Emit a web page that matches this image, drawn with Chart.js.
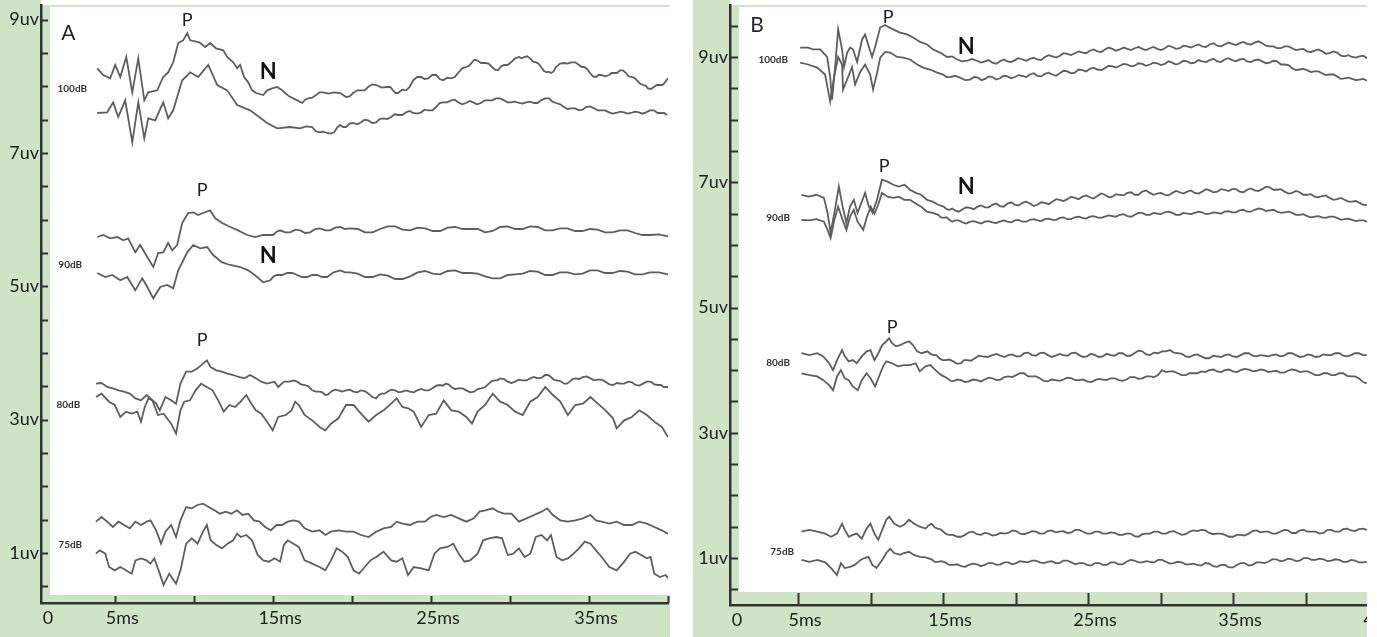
<!DOCTYPE html>
<html>
<head>
<meta charset="utf-8">
<script src="https://cdn.jsdelivr.net/npm/chart.js@4.4.1/dist/chart.umd.min.js"></script>
<style>
  html, body { margin: 0; padding: 0; background: #fff; overflow: hidden; }
  #wrap { position: relative; width: 1377px; height: 637px; overflow: hidden; }
  .panel { position: absolute; top: 0; height: 637px; overflow: hidden; }
  #panelA { left: 0; width: 670px; }
  #panelB { left: 693px; width: 674px; }
</style>
</head>
<body>
<div id="wrap">
  <div class="panel" id="panelA"><canvas id="chartA" width="670" height="637"></canvas></div>
  <div class="panel" id="panelB"><canvas id="chartB" width="720" height="637"></canvas></div>
</div>
<script>
// ---- axis ticks ----
const xTicksA = [5, 10, 15, 20, 25, 30, 35, 40];
const xLabelsA = [5, 15, 25, 35];
const xTicksB = [5, 10, 15, 20, 25, 30, 35, 40, 45];
const xLabelsB = [5, 15, 25, 35, 45];
const yTicksA = [0.5, 1, 1.5, 2, 2.5, 3, 3.5, 4, 4.5, 5, 5.5, 6, 6.5, 7, 7.5, 8, 8.5, 9];
const yTicksB = [0.5, 1, 1.5, 2, 2.5, 3, 3.5, 4, 4.5, 5, 5.5, 6, 6.5, 7, 7.5, 8, 8.5, 9, 9.5];
const yLabels = [1, 3, 5, 7, 9];

// ---- panel A traces: [ms, uV] ----
const a100Upper = [[3.86,8.27],[4.24,8.17],[4.68,8.12],[5.00,8.32],[5.32,8.14],[5.70,8.44],[6.08,7.91],[6.46,8.42],[6.84,7.79],[7.09,7.91],[7.66,7.94],[8.04,8.14],[8.35,8.21],[8.67,8.36],[8.99,8.65],[9.30,8.69],[9.56,8.80],[9.75,8.69],[10.32,8.66],[10.70,8.59],[11.01,8.65],[11.39,8.57],[11.84,8.54],[12.09,8.44],[12.47,8.36],[12.72,8.27],[12.91,8.32],[13.16,8.14],[13.42,8.06],[13.67,7.94],[13.92,7.90],[14.37,7.87],[14.62,7.94],[14.94,7.97],[15.25,7.99],[15.57,7.94],[16.01,7.85],[16.52,7.79],[16.84,7.75],
  [17.03,7.80],[17.22,7.82],[17.47,7.83],[17.72,7.87],[17.94,7.91],[18.16,7.91],[18.51,7.89],[18.86,7.91],[19.24,7.90],[19.62,7.84],[19.84,7.85],[20.06,7.90],[20.32,7.94],[20.57,7.94],[20.79,7.94],[21.01,7.99],[21.27,8.03],[21.52,8.02],[21.87,7.98],[22.22,7.99],[22.41,7.99],[22.59,7.94],[22.75,7.90],[22.91,7.90],[23.17,7.95],[23.42,7.94],[23.64,7.99],[23.86,8.09],[24.12,8.14],[24.37,8.14],[24.59,8.11],[24.81,8.12],[25.07,8.17],[25.32,8.17],[25.54,8.11],[25.76,8.09],[26.02,8.13],[26.27,8.12],[26.49,8.14],[26.71,8.20],[26.97,8.27],[27.22,8.29],[27.41,8.31],[27.59,8.36],[27.75,8.40],[27.91,8.39],[28.17,8.35],[28.42,8.35],[28.64,8.34],[28.86,8.29],[29.05,8.25],[29.24,8.24],[29.43,8.30],[29.62,8.32],[29.84,8.32],[30.06,8.36],[30.32,8.42],[30.57,8.44],[30.73,8.42],[30.89,8.44],[31.08,8.45],[31.27,8.42],[31.46,8.37],[31.65,8.36],[31.81,8.34],[31.96,8.29],[32.15,8.23],[32.34,8.21],[32.47,8.22],[32.59,8.20],[32.75,8.22],[32.91,8.29],[33.17,8.34],[33.42,8.35],[33.64,8.34],[33.86,8.36],[34.12,8.36],[34.37,8.32],[34.53,8.29],[34.68,8.29],[34.87,8.26],[35.06,8.20],[35.25,8.15],[35.44,8.14],[35.60,8.17],[35.76,8.17],[36.02,8.15],[36.27,8.17],[36.43,8.20],[36.58,8.20],[36.77,8.20],[36.96,8.24],[37.15,8.24],[37.34,8.20],[37.50,8.15],[37.66,8.14],[37.85,8.13],[38.04,8.09],[38.23,8.04],[38.42,8.02],[38.58,8.01],[38.73,7.97],[38.92,7.96],[39.11,7.99],[39.30,8.02],[39.49,8.02],[39.65,8.02],[39.81,8.06],[40.0,8.12]];
const a100Lower = [[3.86,7.60],[4.49,7.61],[4.87,7.76],[5.19,7.54],[5.63,7.79],[6.08,7.16],[6.46,7.76],[6.84,7.22],[7.09,7.52],[7.53,7.49],[8.04,7.76],[8.35,7.52],[8.67,7.64],[9.24,8.09],[9.75,8.21],[10.25,8.14],[10.89,8.32],[11.46,8.02],[12.09,7.94],[12.72,7.72],[13.54,7.64],[14.62,7.45],[15.25,7.37],[16.08,7.39],[16.71,7.37],
  [17.09,7.40],[17.47,7.39],[17.69,7.33],[17.91,7.31],[18.17,7.32],[18.42,7.30],[18.64,7.29],[18.86,7.31],[19.05,7.38],[19.24,7.42],[19.43,7.39],[19.62,7.39],[19.84,7.44],[20.06,7.45],[20.32,7.43],[20.57,7.46],[20.79,7.50],[21.01,7.49],[21.27,7.45],[21.52,7.46],[21.74,7.51],[21.96,7.52],[22.22,7.51],[22.47,7.54],[22.69,7.58],[22.91,7.57],[23.17,7.57],[23.42,7.61],[23.64,7.63],[23.86,7.60],[24.12,7.59],[24.37,7.61],[24.59,7.65],[24.81,7.64],[25.07,7.64],[25.32,7.69],[25.54,7.75],[25.76,7.76],[26.02,7.76],[26.27,7.79],[26.49,7.80],[26.71,7.76],[26.97,7.73],[27.22,7.75],[27.44,7.78],[27.66,7.76],[27.91,7.73],[28.16,7.75],[28.39,7.79],[28.61,7.79],[28.86,7.79],[29.11,7.82],[29.37,7.82],[29.62,7.79],[29.84,7.76],[30.06,7.76],[30.32,7.77],[30.57,7.75],[30.79,7.74],[31.01,7.76],[31.27,7.77],[31.52,7.75],[31.74,7.75],[31.96,7.79],[32.22,7.82],[32.47,7.82],[32.69,7.77],[32.91,7.75],[33.17,7.73],[33.42,7.69],[33.64,7.66],[33.86,7.67],[34.12,7.67],[34.37,7.64],[34.59,7.65],[34.81,7.69],[35.07,7.70],[35.32,7.67],[35.54,7.64],[35.76,7.64],[36.02,7.64],[36.27,7.61],[36.49,7.59],[36.71,7.60],[36.97,7.62],[37.22,7.61],[37.44,7.59],[37.66,7.60],[37.91,7.62],[38.16,7.61],[38.39,7.59],[38.61,7.61],[38.86,7.64],[39.11,7.64],[39.34,7.60],[39.56,7.60],[39.75,7.60],[39.94,7.57]];
const a90Upper = [[3.86,5.74],[4.24,5.77],[4.68,5.72],[5.13,5.74],[5.51,5.69],[5.82,5.72],[6.27,5.51],[6.58,5.62],[7.03,5.44],[7.41,5.29],[7.72,5.50],[8.04,5.51],[8.35,5.65],[8.61,5.54],[8.92,5.62],[9.24,5.95],[9.62,6.10],[9.94,6.11],[10.25,6.07],[10.57,6.10],[11.01,6.14],[11.33,6.02],[11.77,5.95],[12.28,5.89],[12.78,5.84],[13.35,5.77],[13.86,5.74],[14.37,5.77],
  [15.0,5.77],[15.22,5.82],[15.44,5.84],[15.76,5.81],[16.08,5.81],[16.40,5.85],[16.71,5.84],[17.03,5.80],[17.34,5.81],[17.66,5.86],[17.97,5.87],[18.29,5.84],[18.61,5.84],[18.93,5.88],[19.24,5.89],[19.56,5.86],[19.87,5.87],[20.35,5.86],[20.82,5.81],[21.30,5.81],[21.77,5.86],[22.25,5.90],[22.72,5.90],[23.20,5.85],[23.67,5.84],[24.15,5.88],[24.62,5.87],[25.10,5.83],[25.57,5.83],[26.05,5.88],[26.52,5.89],[27.00,5.86],[27.47,5.86],[27.95,5.86],[28.42,5.81],[28.90,5.83],[29.37,5.89],[29.85,5.90],[30.32,5.86],[30.80,5.86],[31.27,5.90],[31.75,5.89],[32.22,5.84],[32.69,5.84],[33.16,5.87],[33.64,5.87],[34.11,5.83],[34.59,5.83],[35.06,5.86],[35.54,5.85],[36.01,5.81],[36.49,5.81],[36.96,5.84],[37.44,5.84],[37.91,5.80],[38.39,5.77],[38.86,5.77],[39.43,5.78],[40.0,5.75]];
const a90Lower = [[3.86,5.20],[4.37,5.14],[4.81,5.17],[5.32,5.09],[5.76,5.14],[6.27,4.94],[6.71,5.12],[7.03,4.99],[7.41,4.82],[7.85,4.99],[8.29,5.02],[8.67,4.97],[8.99,5.24],[9.56,5.51],[9.94,5.62],[10.38,5.57],[10.82,5.59],[11.20,5.47],[11.77,5.36],[12.28,5.32],[12.91,5.29],[13.42,5.24],[13.99,5.14],[14.37,5.06],
  [14.81,5.09],[15.03,5.15],[15.25,5.17],[15.57,5.17],[15.89,5.20],[16.21,5.20],[16.52,5.17],[16.84,5.14],[17.15,5.14],[17.47,5.17],[17.78,5.17],[18.10,5.14],[18.42,5.14],[18.83,5.21],[19.24,5.24],[19.56,5.21],[19.87,5.21],[20.35,5.19],[20.82,5.14],[21.30,5.14],[21.77,5.18],[22.25,5.16],[22.72,5.11],[23.20,5.11],[23.67,5.15],[24.15,5.21],[24.62,5.23],[25.10,5.19],[25.57,5.18],[26.05,5.23],[26.52,5.24],[27.00,5.20],[27.47,5.20],[27.95,5.19],[28.42,5.15],[28.90,5.12],[29.37,5.12],[29.85,5.17],[30.32,5.18],[30.80,5.19],[31.27,5.23],[31.75,5.22],[32.22,5.17],[32.69,5.17],[33.16,5.21],[33.64,5.21],[34.11,5.18],[34.59,5.19],[35.06,5.24],[35.54,5.24],[36.01,5.20],[36.49,5.20],[36.96,5.23],[37.44,5.22],[37.91,5.18],[38.39,5.18],[38.86,5.21],[39.43,5.21],[40.0,5.18]];
const a80Upper = [[3.78,3.54],[4.13,3.55],[4.49,3.49],[4.85,3.47],[5.21,3.44],[5.56,3.42],[5.92,3.39],[6.28,3.32],[6.63,3.29],[6.99,3.37],[7.59,3.24],[7.82,3.14],[8.18,3.34],[8.54,3.29],[8.85,3.24],[9.13,3.54],[9.49,3.72],[9.85,3.72],[10.21,3.77],[10.56,3.84],[10.80,3.89],[11.04,3.79],[11.40,3.74],[11.75,3.72],[12.11,3.69],[12.47,3.67],[12.82,3.64],[13.18,3.62],[13.54,3.67],[13.90,3.62],[14.25,3.57],[14.61,3.54],[15.09,3.57],[15.32,3.49],[15.68,3.57],
  [16.04,3.57],[16.28,3.59],[16.52,3.57],[16.76,3.53],[16.99,3.52],[17.23,3.50],[17.47,3.44],[17.71,3.42],[17.94,3.42],[18.12,3.41],[18.30,3.37],[18.48,3.38],[18.66,3.42],[18.90,3.45],[19.13,3.44],[19.37,3.42],[19.61,3.44],[19.85,3.45],[20.09,3.42],[20.33,3.41],[20.56,3.44],[20.80,3.43],[21.04,3.39],[21.28,3.34],[21.52,3.32],[21.70,3.37],[21.87,3.39],[22.05,3.39],[22.23,3.42],[22.47,3.45],[22.71,3.44],[22.95,3.41],[23.18,3.42],[23.42,3.44],[23.66,3.42],[23.90,3.41],[24.13,3.44],[24.37,3.46],[24.61,3.44],[24.85,3.44],[25.09,3.47],[25.33,3.51],[25.56,3.52],[25.74,3.51],[25.92,3.54],[26.10,3.53],[26.28,3.49],[26.52,3.46],[26.75,3.47],[26.99,3.47],[27.23,3.44],[27.47,3.41],[27.71,3.42],[27.95,3.46],[28.18,3.47],[28.42,3.49],[28.66,3.54],[28.84,3.58],[29.02,3.59],[29.20,3.59],[29.37,3.62],[29.61,3.61],[29.85,3.57],[30.09,3.55],[30.32,3.57],[30.56,3.60],[30.80,3.59],[31.04,3.59],[31.28,3.62],[31.52,3.64],[31.75,3.62],[31.99,3.63],[32.23,3.67],[32.41,3.67],[32.59,3.64],[32.77,3.60],[32.94,3.59],[33.18,3.58],[33.42,3.54],[33.60,3.54],[33.78,3.57],[33.96,3.61],[34.13,3.62],[34.37,3.61],[34.61,3.64],[34.85,3.65],[35.09,3.62],[35.33,3.59],[35.56,3.60],[35.80,3.60],[36.04,3.57],[36.28,3.53],[36.52,3.52],[36.76,3.55],[36.99,3.54],[37.23,3.54],[37.47,3.57],[37.71,3.56],[37.94,3.52],[38.18,3.51],[38.42,3.54],[38.66,3.57],[38.90,3.57],[39.14,3.53],[39.37,3.52],[39.55,3.52],[39.73,3.49],[40.0,3.49]];
const a80Lower = [[3.78,3.34],[4.13,3.39],[4.61,3.27],[4.97,3.22],[5.32,3.04],[5.68,3.12],[6.04,3.09],[6.40,3.12],[6.63,2.97],[6.87,3.19],[7.11,3.32],[7.35,3.29],[7.71,3.07],[8.06,3.09],[8.54,2.94],[8.85,2.79],[9.13,3.14],[9.37,3.27],[9.73,3.29],[10.09,3.44],[10.44,3.54],[10.80,3.49],[11.16,3.44],[11.52,3.29],[11.87,3.12],[12.23,3.22],[12.59,3.19],[12.94,3.27],[13.30,3.37],[13.54,3.27],[13.90,3.14],[14.25,3.09],[14.61,2.97],[14.97,2.84],[15.32,3.04],[15.80,3.07],[16.16,3.14],[16.40,3.27],[16.63,3.22],[16.99,3.07],[17.47,2.99],[17.94,2.89],[18.30,2.84],[18.66,2.94],[19.13,3.02],[19.61,3.22],[20.09,3.22],[20.56,3.09],[21.04,2.97],[21.52,3.07],[21.99,3.14],[22.47,3.24],[22.82,3.32],[23.18,3.19],[23.54,3.17],[23.90,3.12],[24.37,2.89],[24.85,3.07],[25.32,3.09],[25.80,3.29],[26.28,3.14],[26.75,3.12],[27.23,3.04],[27.59,2.94],[27.94,3.12],[28.42,3.22],[28.90,3.39],[29.37,3.27],[29.85,3.22],[30.32,3.12],[30.80,3.07],[31.28,3.27],[31.75,3.34],[32.23,3.49],[32.71,3.37],[33.18,3.27],[33.66,3.07],[34.13,3.22],[34.61,3.24],[35.09,3.34],[35.56,3.24],[36.04,3.14],[36.52,3.02],[36.75,2.87],[37.23,2.99],[37.71,3.04],[38.18,3.14],[38.66,3.07],[39.13,2.97],[39.61,2.89],[40.0,2.74]];
const a75Upper = [[3.78,1.47],[4.13,1.54],[4.49,1.47],[4.85,1.39],[5.21,1.47],[5.56,1.42],[5.92,1.37],[6.28,1.47],[6.63,1.42],[6.99,1.47],[7.23,1.49],[7.59,1.34],[7.90,1.14],[8.18,1.32],[8.54,1.42],[8.85,1.24],[9.13,1.49],[9.49,1.69],[9.85,1.67],[10.21,1.72],[10.56,1.74],[10.92,1.69],[11.28,1.64],[11.63,1.59],[11.99,1.62],[12.35,1.59],[12.71,1.64],[13.06,1.57],[13.42,1.59],[13.78,1.49],[14.13,1.47],[14.49,1.39],[14.85,1.34],[15.21,1.42],[15.56,1.42],[15.92,1.47],[16.28,1.49],[16.63,1.47],[16.99,1.37],[17.47,1.32],[17.94,1.34],[18.30,1.27],[18.66,1.32],[19.13,1.34],[19.61,1.32],[20.09,1.32],[20.56,1.27],[21.04,1.24],[21.52,1.32],[21.99,1.37],[22.47,1.39],[22.82,1.47],[23.18,1.44],[23.66,1.42],[24.13,1.47],[24.61,1.47],[24.97,1.54],[25.32,1.57],[25.80,1.54],[26.28,1.57],[26.75,1.52],[27.23,1.47],[27.71,1.52],[28.06,1.62],[28.42,1.64],[28.90,1.67],[29.25,1.62],[29.61,1.59],[30.09,1.59],[30.56,1.47],[31.04,1.52],[31.52,1.57],[31.99,1.62],[32.35,1.67],[32.71,1.57],[33.18,1.49],[33.66,1.47],[34.13,1.49],[34.61,1.52],[35.09,1.57],[35.44,1.49],[35.80,1.47],[36.28,1.44],[36.75,1.47],[37.23,1.42],[37.71,1.42],[38.18,1.47],[38.66,1.44],[39.13,1.39],[39.61,1.34],[40.0,1.29]];
const a75Lower = [[3.78,0.99],[4.02,1.04],[4.37,0.99],[4.61,0.79],[4.97,0.74],[5.32,0.79],[5.68,0.74],[6.04,0.69],[6.28,0.89],[6.63,0.92],[6.99,0.89],[7.23,0.84],[7.47,0.92],[7.82,0.69],[8.06,0.52],[8.42,0.69],[8.85,0.54],[9.13,0.74],[9.49,1.14],[9.85,1.22],[10.21,1.14],[10.56,1.32],[10.80,1.42],[11.04,1.19],[11.40,1.12],[11.75,1.07],[12.11,1.14],[12.47,1.19],[12.71,1.29],[12.94,1.24],[13.30,1.27],[13.66,1.19],[14.02,0.97],[14.37,0.89],[14.73,0.87],[15.09,0.92],[15.44,0.87],[15.68,1.12],[15.92,1.19],[16.28,1.14],[16.63,1.09],[16.99,0.89],[17.47,0.84],[17.94,0.79],[18.30,0.74],[18.66,0.89],[19.02,1.07],[19.37,1.02],[19.73,0.94],[20.09,0.74],[20.44,0.69],[20.80,0.79],[21.16,0.89],[21.52,0.94],[21.99,1.02],[22.47,0.89],[22.82,0.87],[23.18,0.92],[23.54,0.67],[23.90,0.79],[24.37,0.77],[24.85,0.74],[25.21,0.99],[25.56,1.07],[26.04,1.09],[26.40,1.14],[26.75,0.99],[27.11,0.87],[27.47,0.89],[27.94,0.99],[28.30,1.19],[28.66,1.22],[29.13,1.24],[29.49,1.22],[29.85,0.97],[30.20,0.99],[30.56,1.07],[30.92,0.94],[31.28,0.99],[31.63,1.24],[31.99,1.27],[32.35,1.19],[32.59,1.27],[32.94,0.94],[33.30,0.89],[33.66,0.92],[34.02,0.99],[34.37,1.07],[34.73,1.17],[35.09,1.14],[35.44,1.04],[35.80,0.94],[36.28,0.79],[36.75,0.74],[37.23,0.87],[37.59,0.99],[37.94,1.02],[38.30,0.97],[38.66,0.92],[38.90,0.94],[39.13,0.69],[39.49,0.64],[39.85,0.67],[40.0,0.62]];

// ---- panel B traces: [ms, uV] ----
const b100Upper = [[5.14,9.15],[5.69,9.15],[6.03,9.12],[6.52,9.12],[7.0,9.00],[7.21,8.68],[7.34,8.32],[7.55,8.84],[7.76,9.44],[8.03,9.12],[8.17,8.84],[8.38,9.07],[8.59,9.15],[8.79,9.12],[9.07,8.92],[9.41,9.28],[9.62,9.36],[9.83,9.20],[10.10,9.00],[10.31,9.16],[10.66,9.47],[11.0,9.51],[11.21,9.48],[11.55,9.44],[12.03,9.39],[12.52,9.36],[12.93,9.31],[13.41,9.24],[13.90,9.20],[14.31,9.12],[14.79,9.07],
  [15.28,9.00],[15.62,9.01],[15.97,8.96],[16.31,8.93],[16.66,8.94],[17.00,8.97],[17.34,8.94],[17.62,8.91],[17.89,8.93],[18.15,8.95],[18.40,8.91],[18.66,8.89],[18.92,8.93],[19.18,8.96],[19.44,8.93],[19.70,8.92],[19.95,8.95],[20.21,8.98],[20.47,8.96],[20.73,8.94],[20.99,8.97],[21.25,8.99],[21.50,8.96],[21.76,8.95],[22.02,9.00],[22.28,9.03],[22.54,9.01],[22.80,8.99],[23.05,9.02],[23.31,9.06],[23.57,9.05],[23.83,9.03],[24.09,9.06],[24.35,9.09],[24.61,9.07],[24.87,9.06],[25.12,9.10],[25.38,9.12],[25.64,9.09],[25.90,9.08],[26.16,9.12],[26.42,9.15],[26.67,9.13],[26.93,9.10],[27.19,9.12],[27.45,9.15],[27.71,9.13],[27.97,9.11],[28.22,9.14],[28.48,9.16],[28.74,9.13],[29.00,9.11],[29.26,9.14],[29.52,9.16],[29.77,9.13],[30.03,9.11],[30.29,9.14],[30.55,9.18],[30.81,9.16],[31.07,9.13],[31.32,9.14],[31.58,9.18],[31.84,9.17],[32.10,9.15],[32.36,9.18],[32.62,9.20],[32.87,9.17],[33.13,9.16],[33.39,9.20],[33.65,9.22],[33.91,9.18],[34.17,9.17],[34.42,9.20],[34.68,9.23],[34.94,9.21],[35.20,9.19],[35.46,9.22],[35.72,9.24],[35.97,9.21],[36.23,9.20],[36.49,9.23],[36.75,9.25],[37.01,9.22],[37.27,9.18],[37.53,9.17],[37.79,9.17],[38.04,9.14],[38.30,9.14],[38.56,9.17],[38.82,9.17],[39.08,9.14],[39.34,9.11],[39.59,9.12],[39.85,9.13],[40.11,9.09],[40.37,9.08],[40.63,9.10],[40.89,9.12],[41.14,9.09],[41.40,9.05],[41.66,9.06],[41.92,9.09],[42.18,9.07],[42.44,9.02],[42.69,9.01],[42.95,9.03],[43.21,9.00],[43.47,8.99],[43.73,9.01],[43.99,9.02],[44.24,8.98]];
const b100Lower = [[5.14,8.91],[5.69,8.88],[6.31,8.83],[6.86,8.72],[7.21,8.29],[7.48,8.68],[7.76,9.00],[8.03,8.88],[8.10,8.48],[8.45,8.68],[8.72,8.84],[8.93,8.56],[9.28,8.76],[9.62,8.88],[9.97,8.72],[10.17,8.48],[10.45,8.75],[10.66,8.99],[11.0,9.08],[11.34,9.07],[11.83,9.00],[12.24,8.99],[12.72,8.96],[13.21,8.88],[13.62,8.83],[14.10,8.80],[14.59,8.75],
  [15.0,8.72],[15.24,8.68],[15.48,8.68],[15.83,8.70],[16.17,8.67],[16.52,8.63],[16.86,8.64],[17.14,8.68],[17.41,8.67],[17.65,8.63],[17.89,8.65],[18.15,8.69],[18.40,8.68],[18.66,8.64],[18.92,8.66],[19.18,8.70],[19.44,8.69],[19.70,8.66],[19.95,8.68],[20.21,8.71],[20.47,8.70],[20.73,8.68],[20.99,8.72],[21.25,8.74],[21.50,8.70],[21.76,8.69],[22.02,8.73],[22.28,8.75],[22.54,8.72],[22.80,8.70],[23.05,8.74],[23.31,8.78],[23.57,8.77],[23.83,8.74],[24.09,8.75],[24.35,8.80],[24.61,8.79],[24.87,8.77],[25.12,8.81],[25.38,8.83],[25.64,8.80],[25.90,8.79],[26.16,8.82],[26.42,8.86],[26.67,8.85],[26.93,8.83],[27.19,8.86],[27.45,8.89],[27.71,8.88],[27.97,8.85],[28.22,8.86],[28.48,8.90],[28.74,8.89],[29.00,8.86],[29.26,8.88],[29.52,8.91],[29.77,8.90],[30.03,8.87],[30.29,8.89],[30.55,8.93],[30.81,8.91],[31.07,8.88],[31.32,8.90],[31.58,8.94],[31.84,8.93],[32.10,8.90],[32.36,8.91],[32.62,8.95],[32.87,8.93],[33.13,8.92],[33.39,8.95],[33.65,8.97],[33.91,8.93],[34.17,8.92],[34.42,8.96],[34.68,8.98],[34.94,8.95],[35.20,8.93],[35.46,8.96],[35.72,8.97],[35.97,8.93],[36.23,8.92],[36.49,8.95],[36.75,8.96],[37.01,8.93],[37.27,8.90],[37.53,8.91],[37.79,8.94],[38.04,8.93],[38.30,8.88],[38.56,8.88],[38.82,8.87],[39.08,8.82],[39.34,8.79],[39.59,8.80],[39.85,8.81],[40.11,8.79],[40.37,8.76],[40.63,8.77],[40.89,8.77],[41.14,8.74],[41.40,8.71],[41.66,8.72],[41.92,8.72],[42.18,8.69],[42.44,8.65],[42.69,8.66],[42.95,8.67],[43.21,8.65],[43.47,8.63],[43.73,8.64],[43.99,8.65],[44.24,8.62]];
const b90Upper = [[5.23,6.80],[5.74,6.77],[6.26,6.80],[6.78,6.75],[7.03,6.51],[7.24,6.19],[7.50,6.51],[7.81,6.93],[8.07,6.61],[8.33,6.35],[8.58,6.61],[8.84,6.72],[9.10,6.51],[9.36,6.67],[9.62,6.83],[9.88,6.61],[10.13,6.51],[10.44,6.72],[10.78,7.04],[11.17,7.01],[11.56,6.96],[11.94,6.93],[12.33,6.96],[12.72,6.88],[13.11,6.83],[13.49,6.80],[13.88,6.72],[14.27,6.69],[14.66,6.64],
  [15.04,6.61],[15.24,6.57],[15.43,6.56],[15.63,6.58],[15.82,6.55],[16.08,6.53],[16.34,6.57],[16.60,6.60],[16.85,6.59],[17.11,6.57],[17.37,6.61],[17.63,6.63],[17.89,6.60],[18.15,6.60],[18.40,6.64],[18.66,6.66],[18.92,6.62],[19.18,6.61],[19.44,6.66],[19.70,6.68],[19.95,6.64],[20.21,6.63],[20.47,6.67],[20.73,6.69],[20.99,6.66],[21.25,6.62],[21.50,6.64],[21.76,6.68],[22.02,6.67],[22.28,6.65],[22.54,6.69],[22.80,6.73],[23.05,6.72],[23.31,6.70],[23.57,6.73],[23.83,6.77],[24.09,6.75],[24.35,6.73],[24.61,6.77],[24.87,6.79],[25.12,6.76],[25.38,6.74],[25.64,6.78],[25.90,6.82],[26.16,6.80],[26.42,6.76],[26.67,6.77],[26.93,6.81],[27.19,6.80],[27.45,6.79],[27.71,6.83],[27.97,6.84],[28.22,6.80],[28.48,6.80],[28.74,6.85],[29.00,6.87],[29.26,6.83],[29.52,6.80],[29.77,6.82],[30.03,6.83],[30.29,6.80],[30.55,6.79],[30.81,6.83],[31.07,6.86],[31.32,6.84],[31.58,6.82],[31.84,6.85],[32.10,6.87],[32.36,6.83],[32.62,6.82],[32.87,6.85],[33.13,6.89],[33.39,6.87],[33.65,6.84],[33.91,6.85],[34.17,6.89],[34.42,6.88],[34.68,6.86],[34.94,6.89],[35.20,6.89],[35.46,6.85],[35.72,6.84],[35.97,6.88],[36.23,6.90],[36.49,6.87],[36.75,6.86],[37.01,6.89],[37.27,6.93],[37.53,6.92],[37.79,6.88],[38.04,6.88],[38.30,6.89],[38.56,6.85],[38.82,6.82],[39.08,6.83],[39.34,6.86],[39.59,6.84],[39.85,6.80],[40.11,6.80],[40.37,6.81],[40.63,6.77],[40.89,6.76],[41.14,6.78],[41.40,6.79],[41.66,6.75],[41.92,6.72],[42.18,6.73],[42.44,6.75],[42.69,6.72],[42.95,6.69],[43.21,6.69],[43.47,6.70],[43.73,6.67],[43.99,6.64],[44.24,6.64]];
const b90Lower = [[5.23,6.40],[5.74,6.39],[6.26,6.41],[6.78,6.37],[7.03,6.24],[7.24,6.11],[7.50,6.40],[7.76,6.61],[8.07,6.40],[8.33,6.24],[8.58,6.45],[8.84,6.56],[9.10,6.37],[9.49,6.24],[9.75,6.45],[10.01,6.61],[10.26,6.50],[10.52,6.64],[10.78,6.83],[11.17,6.77],[11.56,6.75],[11.94,6.77],[12.33,6.72],[12.72,6.72],[13.11,6.66],[13.49,6.61],[13.88,6.53],[14.27,6.51],
  [14.66,6.48],[14.85,6.44],[15.04,6.43],[15.24,6.44],[15.43,6.40],[15.63,6.37],[15.82,6.39],[16.08,6.39],[16.34,6.36],[16.60,6.34],[16.85,6.37],[17.11,6.38],[17.37,6.36],[17.63,6.34],[17.89,6.37],[18.15,6.38],[18.40,6.36],[18.66,6.35],[18.92,6.37],[19.18,6.39],[19.44,6.37],[19.70,6.36],[19.95,6.39],[20.21,6.40],[20.47,6.37],[20.73,6.37],[20.99,6.40],[21.25,6.41],[21.50,6.39],[21.76,6.38],[22.02,6.41],[22.28,6.42],[22.54,6.40],[22.80,6.40],[23.05,6.43],[23.31,6.44],[23.57,6.41],[23.83,6.41],[24.09,6.44],[24.35,6.45],[24.61,6.43],[24.87,6.42],[25.12,6.45],[25.38,6.46],[25.64,6.44],[25.90,6.43],[26.16,6.45],[26.42,6.47],[26.67,6.46],[26.93,6.45],[27.19,6.48],[27.45,6.49],[27.71,6.46],[27.97,6.45],[28.22,6.48],[28.48,6.51],[28.74,6.51],[29.00,6.48],[29.26,6.48],[29.52,6.51],[29.77,6.50],[30.03,6.49],[30.29,6.52],[30.55,6.53],[30.81,6.51],[31.07,6.48],[31.32,6.48],[31.58,6.51],[31.84,6.50],[32.10,6.49],[32.36,6.51],[32.62,6.53],[32.87,6.52],[33.13,6.49],[33.39,6.50],[33.65,6.52],[33.91,6.51],[34.17,6.50],[34.42,6.53],[34.68,6.54],[34.94,6.52],[35.20,6.52],[35.46,6.55],[35.72,6.56],[35.97,6.53],[36.23,6.53],[36.49,6.56],[36.75,6.58],[37.01,6.57],[37.27,6.54],[37.53,6.55],[37.79,6.56],[38.04,6.53],[38.30,6.51],[38.56,6.52],[38.82,6.53],[39.08,6.51],[39.34,6.48],[39.59,6.48],[39.85,6.49],[40.11,6.46],[40.37,6.44],[40.63,6.45],[40.89,6.46],[41.14,6.44],[41.40,6.43],[41.66,6.45],[41.92,6.45],[42.18,6.43],[42.44,6.40],[42.69,6.41],[42.95,6.42],[43.21,6.40],[43.47,6.38],[43.73,6.39],[43.99,6.39],[44.24,6.37]];
const b80Upper = [[5.23,4.27],[5.78,4.24],[6.32,4.27],[6.73,4.22],[7.14,4.11],[7.41,4.00],[7.68,4.16],[8.03,4.32],[8.22,4.22],[8.49,4.14],[8.77,4.16],[9.04,4.11],[9.39,4.22],[9.72,4.30],[9.99,4.32],[10.26,4.16],[10.53,4.27],[10.80,4.40],[11.08,4.46],[11.27,4.51],[11.48,4.43],[11.75,4.38],[12.03,4.40],[12.30,4.43],[12.65,4.46],[12.92,4.40],[13.20,4.30],[13.52,4.27],
  [13.93,4.30],[14.13,4.26],[14.34,4.24],[14.54,4.24],[14.74,4.19],[14.95,4.16],[15.15,4.16],[15.43,4.17],[15.70,4.14],[15.97,4.10],[16.24,4.11],[16.45,4.16],[16.65,4.16],[16.92,4.15],[17.19,4.19],[17.46,4.23],[17.73,4.22],[18.07,4.21],[18.41,4.24],[18.69,4.26],[18.96,4.23],[19.23,4.21],[19.50,4.24],[19.77,4.25],[20.04,4.22],[20.32,4.22],[20.59,4.27],[20.86,4.28],[21.13,4.24],[21.40,4.23],[21.67,4.27],[21.95,4.28],[22.22,4.24],[22.49,4.21],[22.76,4.23],[23.03,4.26],[23.30,4.24],[23.58,4.23],[23.85,4.27],[24.12,4.28],[24.39,4.24],[24.66,4.21],[24.93,4.22],[25.21,4.26],[25.48,4.24],[25.75,4.21],[26.02,4.22],[26.29,4.26],[26.56,4.24],[26.84,4.23],[27.11,4.27],[27.38,4.27],[27.65,4.23],[27.92,4.23],[28.20,4.27],[28.47,4.31],[28.74,4.30],[29.01,4.25],[29.28,4.24],[29.55,4.28],[29.83,4.27],[30.10,4.30],[30.37,4.30],[30.64,4.32],[30.91,4.28],[31.18,4.27],[31.46,4.26],[31.73,4.22],[32.00,4.21],[32.27,4.24],[32.54,4.25],[32.81,4.22],[33.09,4.19],[33.36,4.19],[33.63,4.23],[33.90,4.22],[34.17,4.21],[34.45,4.24],[34.72,4.25],[34.99,4.22],[35.26,4.21],[35.53,4.24],[35.80,4.27],[36.08,4.27],[36.35,4.23],[36.62,4.22],[36.89,4.24],[37.16,4.23],[37.43,4.22],[37.71,4.24],[37.98,4.25],[38.25,4.22],[38.52,4.23],[38.79,4.27],[39.06,4.27],[39.34,4.24],[39.61,4.21],[39.88,4.22],[40.15,4.25],[40.42,4.24],[40.69,4.21],[40.97,4.22],[41.24,4.25],[41.51,4.24],[41.78,4.24],[42.05,4.27],[42.33,4.27],[42.60,4.23],[42.87,4.22],[43.14,4.24],[43.41,4.27],[43.68,4.27],[43.96,4.24],[44.23,4.24]];
const b80Lower = [[5.23,3.95],[5.78,3.92],[6.32,3.90],[6.73,3.84],[7.14,3.76],[7.41,3.68],[7.68,3.90],[7.95,4.00],[8.22,3.87],[8.49,3.84],[8.77,3.74],[9.12,3.68],[9.39,3.84],[9.72,3.95],[9.99,3.87],[10.31,3.74],[10.53,3.87],[10.86,4.06],[11.08,4.14],[11.48,4.11],[11.89,4.06],[12.30,4.08],[12.71,4.08],[13.11,4.11],[13.39,3.98],[13.79,4.06],[14.12,4.08],[14.47,4.00],[14.88,3.92],
  [15.29,3.87],[15.50,3.83],[15.70,3.82],[15.97,3.85],[16.24,3.84],[16.51,3.81],[16.78,3.82],[17.05,3.85],[17.33,3.84],[17.60,3.82],[17.87,3.85],[18.14,3.88],[18.41,3.87],[18.68,3.84],[18.96,3.85],[19.23,3.89],[19.50,3.90],[19.77,3.89],[20.04,3.92],[20.31,3.95],[20.59,3.95],[20.86,3.90],[21.13,3.90],[21.40,3.90],[21.67,3.87],[21.95,3.83],[22.22,3.82],[22.49,3.85],[22.76,3.84],[23.03,3.83],[23.30,3.85],[23.58,3.88],[23.85,3.87],[24.12,3.84],[24.39,3.84],[24.66,3.85],[24.93,3.82],[25.21,3.81],[25.48,3.84],[25.75,3.86],[26.02,3.85],[26.29,3.84],[26.56,3.87],[26.84,3.87],[27.11,3.84],[27.38,3.83],[27.65,3.85],[27.92,3.89],[28.20,3.89],[28.47,3.86],[28.74,3.87],[29.01,3.90],[29.28,3.90],[29.55,3.89],[29.83,3.92],[30.10,4.00],[30.37,3.97],[30.64,3.98],[30.91,3.98],[31.18,3.95],[31.46,3.92],[31.73,3.92],[32.00,3.95],[32.27,3.95],[32.54,3.95],[32.81,3.98],[33.09,3.97],[33.36,4.00],[33.63,4.01],[33.90,3.98],[34.17,3.97],[34.45,4.00],[34.72,4.01],[34.99,3.98],[35.26,3.97],[35.53,4.00],[35.80,4.02],[36.08,4.01],[36.35,3.98],[36.62,3.99],[36.89,4.01],[37.16,4.00],[37.43,3.97],[37.71,3.98],[37.98,3.99],[38.25,3.96],[38.52,3.96],[38.79,3.99],[39.06,4.01],[39.34,4.00],[39.61,3.97],[39.88,3.98],[40.15,3.98],[40.42,3.95],[40.69,3.92],[40.97,3.92],[41.24,3.95],[41.51,3.95],[41.78,3.92],[42.05,3.92],[42.33,3.95],[42.60,3.95],[42.87,3.91],[43.14,3.90],[43.41,3.90],[43.68,3.87],[43.96,3.81],[44.23,3.79]];
const b75Upper = [[5.23,1.42],[5.78,1.45],[6.32,1.42],[6.86,1.39],[7.27,1.34],[7.68,1.39],[8.03,1.55],[8.22,1.45],[8.49,1.34],[8.77,1.37],[9.04,1.39],[9.39,1.31],[9.72,1.47],[9.99,1.55],[10.26,1.39],[10.53,1.29],[10.80,1.45],[11.08,1.61],[11.29,1.66],[11.62,1.55],[12.03,1.50],[12.30,1.53],[12.65,1.61],[12.98,1.55],[13.39,1.50],
  [13.79,1.47],[14.00,1.52],[14.20,1.55],[14.41,1.49],[14.61,1.47],[14.82,1.46],[15.02,1.42],[15.22,1.38],[15.42,1.37],[15.70,1.37],[15.97,1.34],[16.24,1.34],[16.51,1.37],[16.78,1.41],[17.05,1.42],[17.33,1.38],[17.60,1.37],[17.87,1.40],[18.14,1.39],[18.41,1.36],[18.68,1.37],[18.96,1.40],[19.23,1.39],[19.50,1.40],[19.77,1.44],[20.04,1.43],[20.31,1.39],[20.59,1.38],[20.86,1.40],[21.13,1.43],[21.40,1.42],[21.67,1.39],[21.95,1.39],[22.22,1.43],[22.49,1.44],[22.76,1.41],[23.03,1.42],[23.30,1.43],[23.58,1.40],[23.85,1.41],[24.12,1.45],[24.39,1.45],[24.66,1.42],[24.93,1.39],[25.21,1.39],[25.48,1.42],[25.75,1.42],[26.02,1.39],[26.29,1.39],[26.56,1.41],[26.84,1.40],[27.11,1.37],[27.38,1.37],[27.65,1.39],[27.92,1.39],[28.20,1.35],[28.47,1.34],[28.74,1.38],[29.01,1.39],[29.28,1.39],[29.55,1.42],[29.83,1.42],[30.10,1.39],[30.37,1.39],[30.64,1.42],[30.91,1.43],[31.18,1.40],[31.46,1.37],[31.73,1.38],[32.00,1.42],[32.27,1.44],[32.54,1.43],[32.81,1.45],[33.09,1.44],[33.36,1.40],[33.63,1.38],[33.90,1.39],[34.17,1.39],[34.45,1.37],[34.72,1.34],[34.99,1.34],[35.26,1.37],[35.53,1.37],[35.80,1.36],[36.08,1.39],[36.35,1.43],[36.62,1.44],[36.89,1.41],[37.16,1.42],[37.43,1.42],[37.71,1.39],[37.98,1.39],[38.25,1.42],[38.52,1.45],[38.79,1.44],[39.06,1.40],[39.34,1.40],[39.61,1.44],[39.88,1.45],[40.15,1.42],[40.42,1.42],[40.69,1.42],[40.97,1.39],[41.24,1.40],[41.51,1.45],[41.78,1.45],[42.05,1.42],[42.33,1.42],[42.60,1.46],[42.87,1.47],[43.14,1.44],[43.41,1.43],[43.68,1.46],[43.96,1.47],[44.23,1.45]];
const b75Lower = [[5.23,0.97],[5.78,0.94],[6.32,0.97],[6.86,0.93],[7.27,0.84],[7.68,0.73],[7.95,0.92],[8.22,0.84],[8.58,0.86],[8.90,0.89],[9.31,0.97],[9.58,1.00],[9.85,1.02],[10.12,0.89],[10.40,0.84],[10.80,0.97],[11.08,1.08],[11.35,1.15],[11.62,1.08],[12.03,1.05],[12.30,1.08],[12.65,1.10],[12.98,1.05],[13.39,1.02],[13.79,1.01],
  [14.20,0.98],[14.41,0.94],[14.61,0.94],[14.88,0.95],[15.15,0.93],[15.43,0.89],[15.70,0.89],[15.97,0.90],[16.24,0.87],[16.51,0.86],[16.78,0.89],[17.05,0.91],[17.33,0.90],[17.60,0.87],[17.87,0.89],[18.14,0.92],[18.41,0.92],[18.68,0.89],[18.96,0.90],[19.23,0.93],[19.50,0.93],[19.77,0.90],[20.04,0.92],[20.31,0.95],[20.59,0.94],[20.86,0.93],[21.13,0.96],[21.40,0.96],[21.67,0.93],[21.95,0.92],[22.22,0.94],[22.49,0.95],[22.76,0.92],[23.03,0.92],[23.30,0.96],[23.58,0.96],[23.85,0.93],[24.12,0.90],[24.39,0.92],[24.66,0.92],[24.93,0.89],[25.21,0.88],[25.48,0.92],[25.75,0.92],[26.02,0.89],[26.29,0.89],[26.56,0.93],[26.84,0.93],[27.11,0.90],[27.38,0.90],[27.65,0.94],[27.92,0.97],[28.20,0.96],[28.47,0.93],[28.74,0.93],[29.01,0.95],[29.28,0.94],[29.55,0.93],[29.83,0.97],[30.10,0.97],[30.37,0.94],[30.64,0.91],[30.91,0.92],[31.18,0.94],[31.46,0.93],[31.73,0.90],[32.00,0.90],[32.27,0.91],[32.54,0.89],[32.81,0.88],[33.09,0.92],[33.36,0.91],[33.63,0.87],[33.90,0.86],[34.17,0.89],[34.45,0.89],[34.72,0.85],[35.00,0.85],[35.26,0.89],[35.53,0.92],[35.80,0.92],[36.08,0.88],[36.35,0.89],[36.62,0.93],[36.89,0.93],[37.16,0.92],[37.43,0.94],[37.70,0.98],[37.98,0.98],[38.25,0.95],[38.52,0.96],[38.79,0.99],[39.06,0.98],[39.34,0.95],[39.61,0.96],[39.88,1.00],[40.15,1.00],[40.42,0.97],[40.69,0.97],[40.97,0.99],[41.24,0.98],[41.51,0.95],[41.78,0.96],[42.05,0.98],[42.33,0.97],[42.60,0.94],[42.87,0.94],[43.14,0.97],[43.41,0.96],[43.68,0.93],[43.96,0.93],[44.23,0.94]];

// ---- annotations (text, ms, uV) ----
const notesTextA = ["A", "P", "N", "100dB", "P", "N", "90dB", "P", "80dB", "75dB"];
const notesTimeA = [2.03, 9.56, 14.68, 2.28, 10.51, 14.68, 2.15, 10.51, 2.03, 2.15];
const notesLevelA = [8.80, 8.99, 8.21, 7.97, 6.44, 5.46, 5.33, 4.19, 3.23, 1.12];
const notesTextB = ["B", "P", "N", "100dB", "P", "N", "90dB", "P", "80dB", "75dB"];
const notesTimeB = [2.17, 11.21, 16.59, 3.28, 10.93, 16.59, 3.62, 11.48, 3.62, 3.90];
const notesLevelB = [9.51, 9.64, 9.16, 8.96, 7.25, 6.93, 6.43, 4.68, 4.12, 1.10];

const green = "#cfe4c6";
const axisColor = "#333333";
const traceColor = "#5e5e5e";
const fontFamily = "Lato, 'Open Sans', sans-serif";

const panelBackground = {
  id: "panelBackground",
  beforeDraw(chart, args, opts) {
    const { ctx, chartArea: a, width, height } = chart;
    ctx.save();
    ctx.fillStyle = "#fff";
    ctx.fillRect(0, 0, width, height);
    ctx.fillStyle = green;
    ctx.fillRect(0, 0, a.left, height);
    ctx.fillRect(0, a.top, width, height - a.top);
    ctx.fillStyle = "#fff";
    ctx.fillRect(a.left + opts.inset, a.top + 2, width, a.bottom - opts.insetBottom - a.top - 2);
    ctx.restore();
  }
};

const innerTicks = {
  id: "innerTicks",
  afterDraw(chart, args, opts) {
    const { ctx, chartArea: a, scales } = chart;
    ctx.save();
    ctx.strokeStyle = axisColor;
    ctx.lineWidth = 2;
    scales.y.ticks.forEach(t => {
      const y = Math.round(scales.y.getPixelForValue(t.value)) + 0.5;
      ctx.beginPath();
      ctx.moveTo(a.left, y);
      ctx.lineTo(a.left + opts.yLen, y);
      ctx.stroke();
    });
    scales.x.ticks.forEach(t => {
      if (t.value <= scales.x.min) return;
      const x = Math.round(scales.x.getPixelForValue(t.value)) + 0.5;
      ctx.beginPath();
      ctx.moveTo(x, a.bottom);
      ctx.lineTo(x, a.bottom - opts.xLen);
      ctx.stroke();
    });
    ctx.restore();
  }
};

const notes = {
  id: "notes",
  afterDatasetsDraw(chart, args, opts) {
    const { ctx, scales } = chart;
    ctx.save();
    ctx.textAlign = "center";
    ctx.textBaseline = "middle";
    opts.texts.forEach((txt, i) => {
      let font = "18px " + fontFamily;
      let color = "#1e1e1e";
      if (txt.endsWith("dB")) { font = "bold 10px " + fontFamily; color = "#333"; }
      else if (txt === "N") { font = "bold 22px " + fontFamily; color = "#111"; }
      else if (txt === "A" || txt === "B") { font = "21px " + fontFamily; color = "#1d2533"; }
      ctx.font = font;
      ctx.fillStyle = color;
      ctx.fillText(txt, scales.x.getPixelForValue(opts.times[i]), scales.y.getPixelForValue(opts.levels[i]));
    });
    ctx.restore();
  }
};

function makeDataset(points) {
  return {
    data: points,
    borderColor: traceColor,
    borderWidth: 1.8,
    pointRadius: 0,
    tension: 0,
    fill: false
  };
}

function crearPanel(canvasId, cfg) {
  const tickFont = { family: fontFamily, size: 18 };
  new Chart(document.getElementById(canvasId), {
    type: "line",
    data: { datasets: cfg.traces.map(makeDataset) },
    plugins: [panelBackground, innerTicks, notes],
    options: {
      responsive: false,
      animation: false,
      layout: { padding: { left: 0, top: 5, right: cfg.padRight, bottom: 0 } },
      plugins: {
        legend: { display: false },
        tooltip: { enabled: false },
        panelBackground: { inset: cfg.inset, insetBottom: cfg.insetBottom },
        innerTicks: { yLen: cfg.yTickLen, xLen: cfg.xTickLen },
        notes: { texts: cfg.noteTexts, times: cfg.noteTimes, levels: cfg.noteLevels }
      },
      scales: {
        x: {
          type: "linear",
          min: 0.3,
          max: cfg.xMax,
          afterBuildTicks: s => { s.ticks = [{ value: s.min }, ...cfg.xTicks.map(v => ({ value: v }))]; },
          afterFit: s => { s.height = cfg.xAxisHeight; s.paddingLeft = 0; s.paddingRight = 0; },
          ticks: {
            autoSkip: false,
            maxRotation: 0,
            minRotation: 0,
            padding: 4,
            labelOffset: 7,
            color: "#1e1e1e",
            font: tickFont,
            callback: v => (v === 0.3 ? "0" : (cfg.xLabels.includes(v) ? v + "ms" : ""))
          },
          grid: { drawTicks: false, drawOnChartArea: false },
          border: { display: true, color: axisColor, width: 2.5 }
        },
        y: {
          type: "linear",
          min: 0.25,
          max: cfg.yMax,
          afterBuildTicks: s => { s.ticks = cfg.yTicks.map(v => ({ value: v })); },
          afterFit: s => { s.width = cfg.yAxisWidth; s.paddingTop = 0; s.paddingBottom = 0; },
          ticks: {
            autoSkip: false,
            padding: 2,
            color: "#1e1e1e",
            font: tickFont,
            callback: v => (yLabels.includes(v) ? v + "uv" : "")
          },
          grid: { drawTicks: false, drawOnChartArea: false },
          border: { display: true, color: axisColor, width: 2.5 }
        }
      }
    }
  });
}

crearPanel("chartA", {
  traces: [a100Upper, a100Lower, a90Upper, a90Lower, a80Upper, a80Lower, a75Upper, a75Lower],
  xMax: 40, yMax: 9.22,
  xTicks: xTicksA, xLabels: xLabelsA, yTicks: yTicksA,
  yAxisWidth: 41, xAxisHeight: 34, padRight: 2,
  inset: 9, insetBottom: 8, yTickLen: 7, xTickLen: 7,
  noteTexts: notesTextA, noteTimes: notesTimeA, noteLevels: notesLevelA
});

crearPanel("chartB", {
  traces: [b100Upper, b100Lower, b90Upper, b90Lower, b80Upper, b80Lower, b75Upper, b75Lower],
  xMax: 46, yMax: 9.83,
  xTicks: xTicksB, xLabels: xLabelsB, yTicks: yTicksB,
  yAxisWidth: 37, xAxisHeight: 32, padRight: 20.5,
  inset: 9, insetBottom: 13, yTickLen: 8, xTickLen: 12,
  noteTexts: notesTextB, noteTimes: notesTimeB, noteLevels: notesLevelB
});
</script>
</body>
</html>
